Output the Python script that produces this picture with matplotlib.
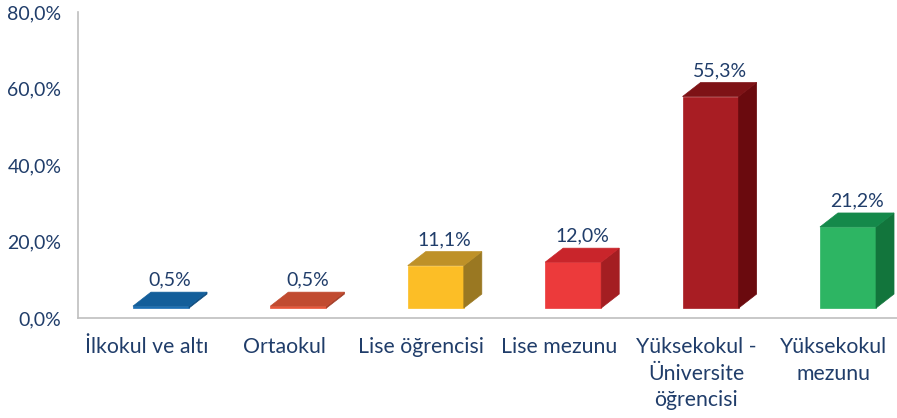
import matplotlib
matplotlib.use("Agg")
import matplotlib.pyplot as plt
from matplotlib.patches import Polygon
from matplotlib.ticker import FuncFormatter

categories = ["İlkokul ve altı", "Ortaokul", "Lise öğrencisi", "Lise mezunu",
              "Yüksekokul -\nÜniversite\nöğrencisi", "Yüksekokul\nmezunu"]
values = [0.5, 0.5, 11.1, 12.0, 55.3, 21.2]
front_colors = ["#1C6FB4", "#E8573A", "#FCBE26", "#EC3A3B", "#A81D23", "#2DB563"]
top_colors = ["#135E9A", "#C14B30", "#BE9128", "#C9252B", "#7E1216", "#14894A"]
side_colors = ["#0F4C7E", "#A33D28", "#9A7822", "#A41E22", "#6A0A0E", "#12753C"]
yticks = [0, 20, 40, 60, 80]

text_color = "#203D6A"
plt.rcParams['font.family'] = ['Lato', 'DejaVu Sans']

fig = plt.figure(figsize=(8.97, 4.18), dpi=100)
ax = fig.add_axes([78/897, 100/418, (897-78)/897, (318-12)/418])
ax.set_xlim(0, 819/137.4)
ax.set_ylim(0, 80)

base = 2.6
off = 0.40
w = 0.408
dx = 0.131
dy = 3.66

for i, v in enumerate(values):
    x0 = i + off
    x1 = x0 + w
    y0 = base
    y1 = base + v
    # front
    ax.add_patch(Polygon([(x0, y0), (x1, y0), (x1, y1), (x0, y1)], closed=True,
                         facecolor=front_colors[i], edgecolor=front_colors[i], lw=0.5, zorder=3))
    # side
    ax.add_patch(Polygon([(x1, y0), (x1 + dx, y0 + dy), (x1 + dx, y1 + dy), (x1, y1)], closed=True,
                         facecolor=side_colors[i], edgecolor=side_colors[i], lw=0.5, zorder=3))
    # top
    ax.add_patch(Polygon([(x0, y1), (x1, y1), (x1 + dx, y1 + dy), (x0 + dx, y1 + dy)], closed=True,
                         facecolor=top_colors[i], edgecolor=top_colors[i], lw=0.5, zorder=4))
    ax.text(x0 + (w + dx) / 2, y1 + dy + 0.9, f"{v:.1f}%".replace(".", ","),
            ha="center", va="bottom", fontsize=14, color=text_color, zorder=5)

ax.set_yticks(yticks)
ax.yaxis.set_major_formatter(FuncFormatter(lambda y, p: f"{y:.1f}%".replace(".", ",")))
ax.set_xticks([i + 0.5 for i in range(len(categories))])
ax.set_xticklabels(categories, linespacing=1.38)
ax.tick_params(axis="both", length=0, colors=text_color)
ax.tick_params(axis="x", pad=14, labelsize=15.3)
ax.tick_params(axis="y", pad=12, labelsize=14)
for lab in ax.get_xticklabels():
    lab.set_va("top")
    lab.set_ha("center")

for s in ["top", "right"]:
    ax.spines[s].set_visible(False)
for s in ["left", "bottom"]:
    ax.spines[s].set_color("#BFBFBF")
    ax.spines[s].set_linewidth(1.2)

fig.savefig("out.png", dpi=100)
